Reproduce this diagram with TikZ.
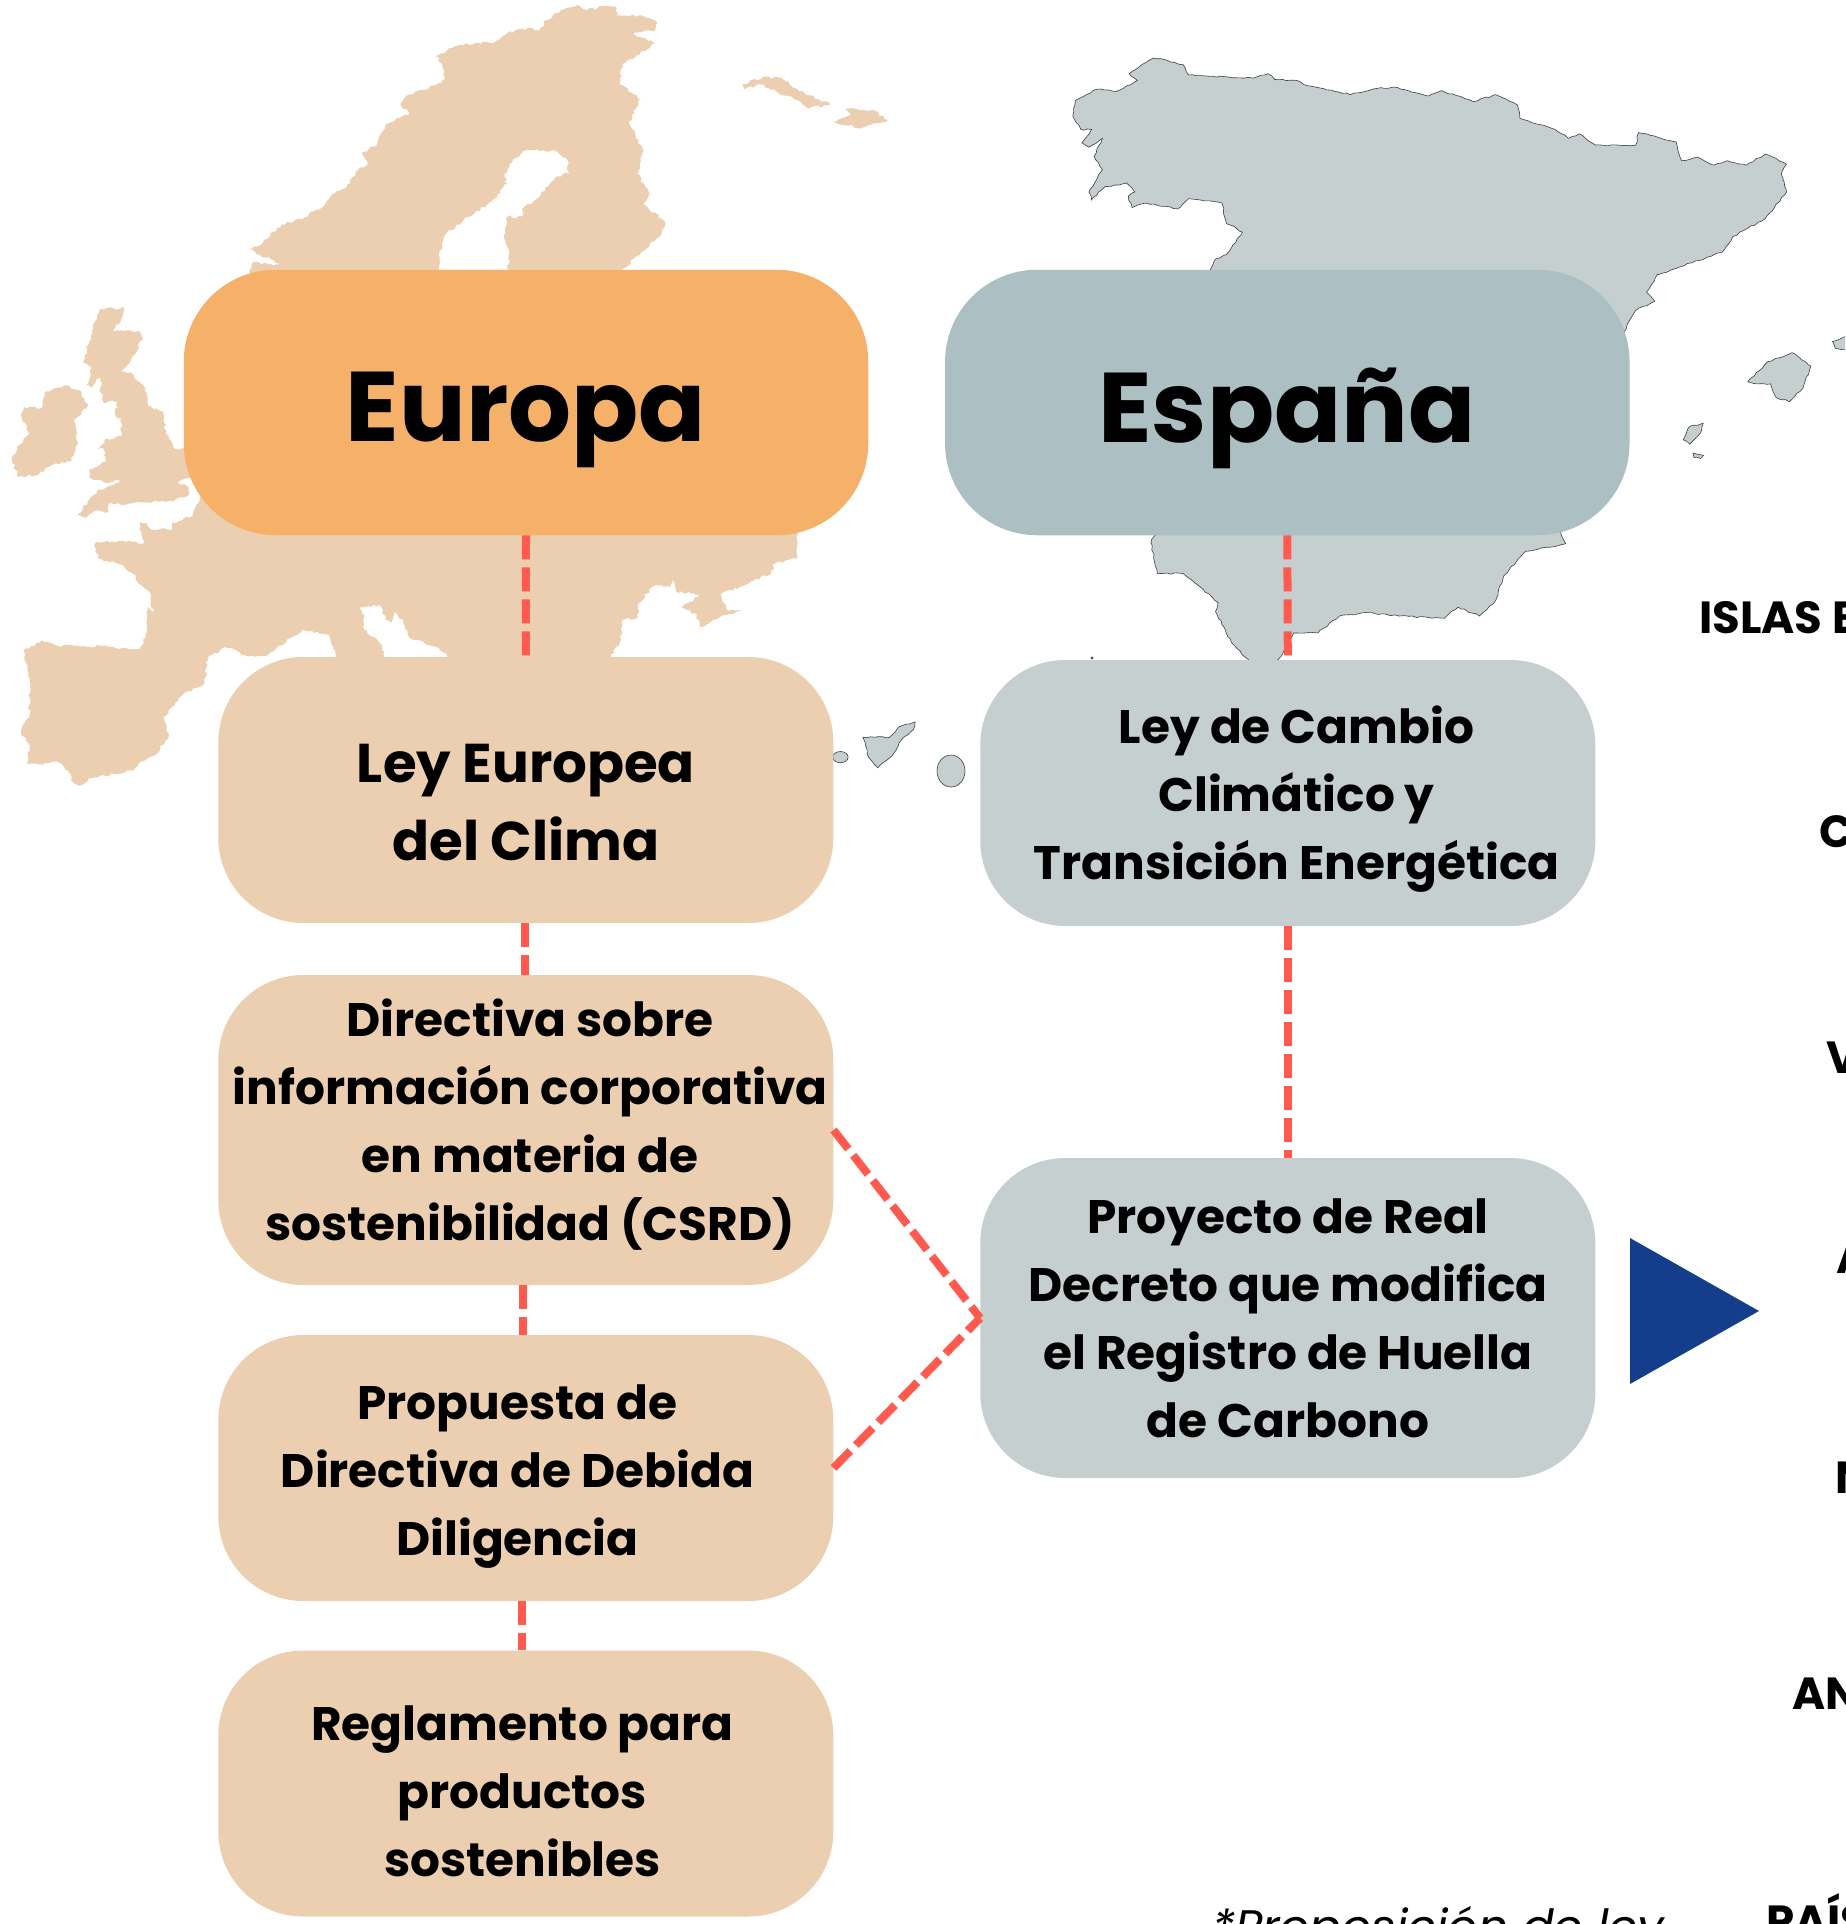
\documentclass[tikz,border=0pt]{standalone}
\usepackage{fontspec}
\setmainfont{Poppins}
\usetikzlibrary{decorations.pathmorphing}
\definecolor{euhead}{HTML}{F5B169}
\definecolor{eslabel}{HTML}{ACC0C3}
\definecolor{eubox}{HTML}{ECCFB1}
\definecolor{esbox}{HTML}{C5CFD0}
\definecolor{dashc}{HTML}{FF5A4D}
\definecolor{navy}{HTML}{143D8C}
\tikzset{
  head/.style={rounded corners=92pt,minimum width=684.5pt,minimum height=265.5pt,inner sep=0pt},
  lawbox/.style={rounded corners=85pt,minimum width=615pt,inner sep=0pt},
  headtxt/.style={font=\fontsize{99}{99}\selectfont\bfseries,inner sep=0pt},
  bigtxt/.style={font=\fontsize{54.6}{78.5}\selectfont\bfseries,align=center,inner sep=0pt},
  midtxt/.style={font=\fontsize{47}{68}\selectfont\bfseries,align=center,inner sep=0pt},
  sidetxt/.style={font=\fontsize{45}{45}\selectfont\bfseries,anchor=base west,inner sep=0pt},
  link/.style={draw=dashc,line width=8pt,dash pattern=on 24pt off 8pt},
  eumap/.style={fill=eubox,decorate,decoration={random steps,segment length=3pt,amplitude=1.5pt}},
  esmap/.style={fill=esbox,draw=black!75,line width=.6pt,decorate,decoration={random steps,segment length=4pt,amplitude=.8pt}}
}
\begin{document}
\begin{tikzpicture}[x=1pt,y=-1pt]
\useasboundingbox (0,0) rectangle (1845,1924);
\clip (0,0) rectangle (1845,1924);
\pgfmathsetseed{7}
% Europe map
\begin{scope}[x=.5931pt,y=-.5102pt]
\path[eumap] (420,535)--(425,515)--(480,520)--(420,490)--(440,480)--(460,455)--(475,440)--(510,430)--(525,415)--(545,405)--(560,380)--(590,360)--(600,335)--(620,320)--(610,300)--(635,285)--(650,245)--(690,222)--(675,205)--(690,185)--(720,175)--(750,155)--(745,125)--(735,110)--(770,90)--(800,85)--(830,85)--(855,65)--(890,55)--(910,60)--(920,40)--(945,20)--(975,10)--(990,20)--(1020,12)--(1040,15)--(1040,30)--(1080,30)--(1108,45)--(1105,60)--(1060,65)--(1105,85)--(1085,100)--(1050,125)--(1045,165)--(1080,195)--(1060,240)--(1085,295)--(1075,340)--(1095,380)--(1085,400)--(1122,435)--(1115,460)--(1050,527)--(1040,540)--(855,540)--(858,500)--(850,460)--(855,425)--(880,425)--(880,410)--(905,390)--(940,345)--(960,340)--(955,310)--(935,295)--(885,295)--(860,320)--(850,345)--(855,360)--(830,395)--(790,425)--(750,460)--(740,500)--(742,540)--cycle;
\path[eumap] (340,970)--(325,1010)--(290,1025)--(290,1038)--(255,1038)--(248,1025)--(235,1025)--(242,1065)--(200,1060)--(160,1065)--(165,1095)--(200,1105)--(225,1125)--(235,1145)--(252,1160)--(255,1190)--(262,1205)--(250,1190)--(245,1250)--(235,1272)--(190,1268)--(95,1265)--(70,1255)--(40,1275)--(50,1330)--(50,1400)--(35,1435)--(50,1460)--(45,1498)--(100,1495)--(115,1510)--(120,1530)--(135,1540)--(150,1525)--(225,1510)--(235,1495)--(262,1480)--(285,1440)--(275,1405)--(305,1365)--(345,1340)--(350,1290)--(380,1268)--(415,1285)--(450,1285)--(510,1235)--(555,1245)--(568,1295)--(653,1295)--(640,1260)--(612,1230)--(615,1205)--(605,1190)--(640,1185)--(650,1215)--(660,1220)--(665,1200)--(680,1215)--(690,1250)--(740,1270)--(765,1295)--(1025,1295)--(1045,1260)--(1050,1215)--(1075,1210)--(1075,1185)--(1100,1150)--(1130,1150)--(1135,1130)--(1140,1160)--(1180,1165)--(1150,1190)--(1175,1205)--(1180,1230)--(1225,1205)--(1255,1195)--(1225,1195)--(1215,1165)--(1300,1125)--(1305,1105)--(1345,1095)--(1345,1040)--(1300,1000)--(500,950)--cycle;
\path[eumap] (170,605)--(210,603)--(205,625)--(190,650)--(235,648)--(240,660)--(230,690)--(205,728)--(220,730)--(242,755)--(250,795)--(275,810)--(280,850)--(295,880)--(330,875)--(340,930)--(300,945)--(318,955)--(318,970)--(295,980)--(240,985)--(210,990)--(185,985)--(180,1005)--(165,1000)--(145,1015)--(130,1010)--(165,960)--(210,940)--(175,945)--(150,935)--(150,920)--(178,905)--(175,880)--(165,880)--(180,860)--(205,855)--(205,820)--(195,815)--(198,785)--(175,790)--(170,770)--(170,735)--(155,760)--(145,755)--(155,720)--(140,710)--(150,670)--(160,630)--cycle;
\path[eumap] (75,770)--(110,755)--(135,765)--(148,795)--(125,825)--(132,870)--(120,905)--(90,910)--(65,930)--(30,935)--(20,895)--(40,860)--(50,850)--(35,815)--(40,798)--(70,800)--cycle;
\path[eumap] (1253,165)--(1290,150)--(1320,155)--(1345,175)--(1400,205)--(1360,212)--(1340,195)--(1310,180)--(1280,165)--(1255,175)--cycle;
\path[eumap] (1405,238)--(1435,225)--(1425,212)--(1470,215)--(1498,235)--(1490,240)--(1455,250)--(1420,245)--cycle;
\path[esmap] (1455,1445)--(1500,1445)--(1515,1425)--(1543,1415)--(1540,1430)--(1520,1450)--(1505,1480)--(1480,1505)--(1465,1485)--cycle;
\filldraw[fill=esbox,draw=black!75,line width=.6pt] (1417,1484) ellipse (13 and 11);
\end{scope}
\filldraw[fill=esbox,draw=black!75,line width=.6pt] (951,771) ellipse (14 and 16);
\fill[black!75] (1092,658) circle (1.5);
% Spain map
\begin{scope}[shift={(1000pt,0pt)},x=.5388pt,y=-.4464pt]
\path[esmap] (388,610)--(400,580)--(420,570)--(450,520)--(420,500)--(412,455)--(380,450)--(350,445)--(330,468)--(270,455)--(245,465)--(238,440)--(250,430)--(235,410)--(195,418)--(170,448)--(165,430)--(190,380)--(175,350)--(190,310)--(165,330)--(152,320)--(170,290)--(150,290)--(135,260)--(140,225)--(180,200)--(215,205)--(255,180)--(240,165)--(285,130)--(310,135)--(340,145)--(350,168)--(470,175)--(497,165)--(510,178)--(550,180)--(570,192)--(650,212)--(700,198)--(730,195)--(795,215)--(820,203)--(880,228)--(920,212)--(960,235)--(965,265)--(1030,290)--(1055,310)--(1075,300)--(1105,325)--(1180,325)--(1185,297)--(1255,318)--(1265,360)--(1295,352)--(1325,370)--(1350,360)--(1385,370)--(1420,345)--(1460,368)--(1450,390)--(1460,430)--(1420,490)--(1360,530)--(1340,565)--(1245,605)--(1220,615)--(1200,655)--(1215,675)--(1180,695)--(1155,750)--(1100,1000)--(1040,1190)--(1050,1218)--(975,1235)--(935,1290)--(920,1345)--(890,1380)--(850,1360)--(825,1385)--(740,1380)--(680,1372)--(630,1380)--(590,1418)--(545,1418)--(522,1470)--(510,1485)--(465,1485)--(430,1440)--(400,1370)--(405,1350)--(340,1285)--(292,1285)--(280,1215)--(290,1190)--(350,900)--cycle;
\path[esmap] (1388,855)--(1425,810)--(1470,790)--(1505,820)--(1490,870)--(1465,900)--(1440,890)--(1430,860)--(1405,860)--cycle;
\path[esmap] (1268,985)--(1280,955)--(1305,948)--(1300,970)--(1280,995)--cycle;
\path[esmap] (1286,1015)--(1296,1018)--(1306,1020)--(1300,1027)--(1288,1025)--cycle;
\path[esmap] (1545,765)--(1580,750)--(1580,785)--(1550,780)--cycle;
\end{scope}
% boxes
\node[head,fill=euhead] (europa) at (526,402.5) {};
\node[head,fill=eslabel] (espana) at (1287.3,402.5) {};
\node[lawbox,fill=eubox,minimum height=266pt] (leyeu) at (525.8,790) {};
\node[lawbox,fill=eubox,minimum height=310pt] (csrd) at (525.8,1130) {};
\node[lawbox,fill=eubox,minimum height=266pt] (debida) at (525.8,1468) {};
\node[lawbox,fill=eubox,minimum height=266pt] (regla) at (525.8,1783.5) {};
\node[lawbox,fill=esbox,minimum height=266pt] (leyes) at (1287.8,793) {};
\node[lawbox,fill=esbox,minimum height=320pt] (proy) at (1287.8,1318) {};
% connectors
\draw[link] (europa.south) -- (leyeu.north);
\draw[link] (espana.south) -- (leyes.north);
\draw[link] ([xshift=-.5pt]leyeu.south) -- ([xshift=-.5pt]csrd.north);
\draw[link] ([xshift=-2.5pt]csrd.south) -- ([xshift=-2.5pt]debida.north);
\draw[link] ([xshift=-3.5pt]debida.south) -- ([xshift=-3.5pt]regla.north);
\draw[link] (leyes.south) -- (proy.north);
\draw[link] (csrd.east) -- (proy.west);
\draw[link] (debida.east) -- (proy.west);
% triangle
\fill[navy] (1630,1238) -- (1759,1311) -- (1630,1384) -- cycle;
% texts
\node[headtxt,anchor=base] (t1) at (526,441) {Europa};
\node[headtxt,anchor=base] (t2) at (1287,442) {España};
\node[bigtxt] (t3) at (526,802.5) {Ley Europea\\del Clima};
\node[midtxt] (t4) at (1296.5,799.5) {Ley de Cambio\\Climático y\\Transición Energética};
\node[midtxt] (t5) at (530.2,1124.5) {Directiva sobre\\información corporativa\\en materia de\\sostenibilidad (CSRD)};
\node[midtxt] (t6) at (517.5,1477) {Propuesta de\\Directiva de Debida\\Diligencia};
\node[midtxt] (t7) at (522.5,1791.5) {Reglamento para\\productos\\sostenibles};
\node[midtxt] (t8) at (1288,1318) {Proyecto de Real\\Decreto que modifica\\el Registro de Huella\\de Carbono};
\node[sidetxt] (s1) at (1699,633) {ISLAS B};
\node[sidetxt] (s2) at (1819,847) {C};
\node[sidetxt] (s3) at (1826,1073) {V};
\node[sidetxt] (s4) at (1836,1273) {A};
\node[sidetxt] (s5) at (1835,1493) {N};
\node[sidetxt] (s6) at (1792,1709) {AN};
\node[sidetxt] (s7) at (1766,1937) {PAÍS};
\node[font=\fontsize{47}{47}\selectfont\itshape,anchor=base west,inner sep=0pt] (s8) at (1212,1943) {*Proposición de ley};
\end{tikzpicture}
\end{document}
